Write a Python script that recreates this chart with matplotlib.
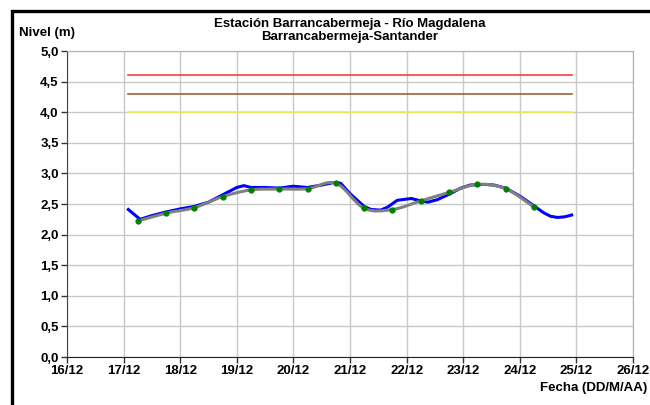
import numpy as np
import pandas as pd
import matplotlib
matplotlib.use('Agg')
import matplotlib.pyplot as plt
import matplotlib.dates as mdates
from matplotlib.path import Path
from matplotlib.patches import PathPatch, Rectangle

plt.rcParams['font.family'] = ['Liberation Sans', 'DejaVu Sans']

# Observed level (blue line)
obs_time = ['2010-12-17 02:00', '2010-12-17 07:00', '2010-12-17 12:00', '2010-12-17 18:00',
            '2010-12-18 00:00', '2010-12-18 06:00', '2010-12-18 12:00', '2010-12-18 18:00',
            '2010-12-19 00:00', '2010-12-19 03:00', '2010-12-19 06:00', '2010-12-19 12:00',
            '2010-12-19 18:00', '2010-12-20 00:00', '2010-12-20 06:00', '2010-12-20 12:00',
            '2010-12-20 17:00', '2010-12-20 20:00', '2010-12-21 00:00', '2010-12-21 06:00',
            '2010-12-21 09:00', '2010-12-21 13:00', '2010-12-21 16:00', '2010-12-21 20:00',
            '2010-12-22 02:00', '2010-12-22 06:00', '2010-12-22 09:00', '2010-12-22 13:00',
            '2010-12-22 18:00', '2010-12-22 23:00', '2010-12-23 03:00', '2010-12-23 09:00',
            '2010-12-23 13:00', '2010-12-23 18:00', '2010-12-24 00:00', '2010-12-24 06:00',
            '2010-12-24 10:00', '2010-12-24 13:00', '2010-12-24 16:00', '2010-12-24 19:00',
            '2010-12-24 22:00']
obs_level = [2.41, 2.25, 2.31, 2.37,
             2.42, 2.46, 2.53, 2.65,
             2.77, 2.80, 2.77, 2.77,
             2.76, 2.79, 2.77, 2.81,
             2.85, 2.84, 2.67, 2.46,
             2.41, 2.40, 2.45, 2.56,
             2.59, 2.55, 2.53, 2.57,
             2.66, 2.76, 2.81, 2.82,
             2.81, 2.76, 2.63, 2.47,
             2.36, 2.30, 2.28, 2.29,
             2.32]

# Twice-daily readings (gray smoothed line with green dots)
read_time = ['2010-12-17 06:00', '2010-12-17 18:00', '2010-12-18 06:00', '2010-12-18 18:00',
             '2010-12-19 06:00', '2010-12-19 18:00', '2010-12-20 06:00', '2010-12-20 18:00',
             '2010-12-21 06:00', '2010-12-21 18:00', '2010-12-22 06:00', '2010-12-22 18:00',
             '2010-12-23 06:00', '2010-12-23 18:00', '2010-12-24 06:00']
read_level = [2.22, 2.35, 2.44, 2.62, 2.73, 2.745, 2.75, 2.84,
              2.43, 2.41, 2.55, 2.69, 2.82, 2.75, 2.45]

# Alert levels
alert_start = '2010-12-17 02:00'
alert_end = '2010-12-24 22:00'
alert_levels = [4.6, 4.3, 4.0]
alert_colors = ['#ff3c3c', '#a0603a', '#f0f04a']

obs_t = mdates.date2num(pd.to_datetime(obs_time))
read_t = mdates.date2num(pd.to_datetime(read_time))

fig = plt.figure(figsize=(6.5, 4.05), dpi=100)
ax = fig.add_axes([67/650, 48/405, 566/650, 306/405])

for lev, col in zip(alert_levels, alert_colors):
    ax.plot(pd.to_datetime([alert_start, alert_end]), [lev, lev], color=col, lw=1.2, zorder=3)

ax.plot(obs_t, obs_level, color='#0000ff', lw=2.2, zorder=4)

# smoothed curve like Excel's "smoothed line"
pts = np.column_stack([read_t, read_level])
verts = [pts[0]]
codes = [Path.MOVETO]
for i in range(len(pts) - 1):
    p0 = pts[max(i - 1, 0)]
    p1 = pts[i]
    p2 = pts[i + 1]
    p3 = pts[min(i + 2, len(pts) - 1)]
    verts += [p1 + (p2 - p0) / 6, p2 - (p3 - p1) / 6, p2]
    codes += [Path.CURVE4] * 3
ax.add_patch(PathPatch(Path(verts, codes), fill=False, edgecolor='#808080', lw=2.2, zorder=5))
ax.plot(read_t, read_level, 'o', color='#008000', ms=3.5, zorder=6)

ax.set_xlim(pd.Timestamp('2010-12-16'), pd.Timestamp('2010-12-26'))
ax.set_ylim(0, 5)
ax.xaxis.set_major_locator(mdates.DayLocator())
ax.xaxis.set_major_formatter(mdates.DateFormatter('%d/%m'))
ax.set_yticks(np.arange(0, 5.01, 0.5))
ax.set_yticklabels([f'{v:.1f}'.replace('.', ',') for v in np.arange(0, 5.01, 0.5)])
ax.grid(True, color='#c8c8c8', lw=1.0)
ax.set_axisbelow(True)
for lab in ax.get_xticklabels() + ax.get_yticklabels():
    lab.set_fontweight('bold')
    lab.set_fontsize(9.5)
ax.tick_params(axis='both', length=4, width=1, color='#333333', pad=2)
ax.spines['left'].set_color('#444444')
ax.spines['bottom'].set_color('#222222')
ax.spines['top'].set_color('#b0b0b0')
ax.spines['right'].set_color('#b0b0b0')

fig.text(350/650, 1 - 24/405, 'Estación Barrancabermeja - Río Magdalena',
         ha='center', va='center', fontsize=9.5, fontweight='bold')
fig.text(350/650, 1 - 37/405, 'Barrancabermeja-Santander',
         ha='center', va='center', fontsize=9.5, fontweight='bold')
fig.text(19/650, 1 - 33/405, 'Nivel (m)', ha='left', va='center', fontsize=9.5, fontweight='bold')
fig.text(647/650, 1 - 388/405, 'Fecha (DD/M/AA)', ha='right', va='center', fontsize=9.5, fontweight='bold')

fig.patches.append(Rectangle((12/650, -0.1), 1.2, 0.1 + (405 - 11) / 405,
                             transform=fig.transFigure, fill=False, edgecolor='black', lw=2.4))

fig.savefig('out.png', dpi=100)
